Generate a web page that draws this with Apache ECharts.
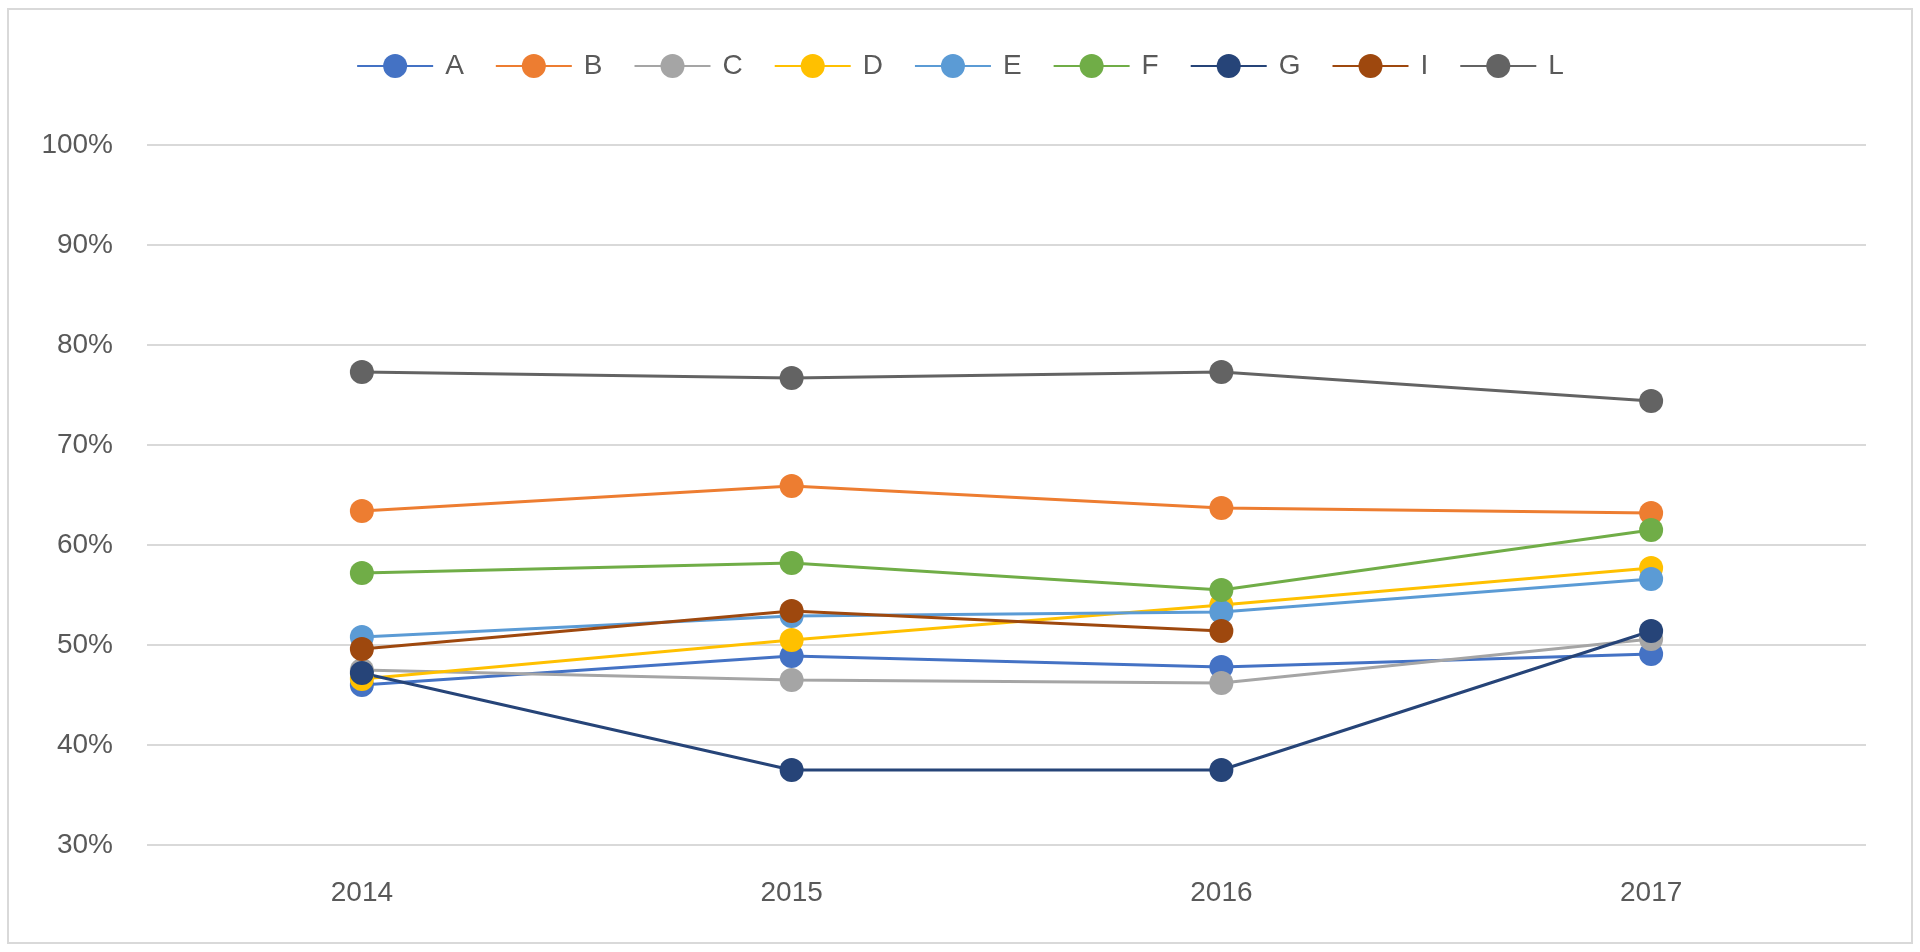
<!DOCTYPE html>
<html>
<head>
<meta charset="utf-8">
<script src="https://cdn.jsdelivr.net/npm/echarts@6/dist/echarts.min.js"></script>
<style>
html,body{margin:0;padding:0;background:#fff;}
#c{width:1920px;height:952px;}
</style>
</head>
<body>
<div id="c"></div>
<script>
const categories = ['2014', '2015', '2016', '2017'];
const seriesNames = ['A', 'B', 'C', 'D', 'E', 'F', 'G', 'I', 'L'];
const A = [46.0, 48.9, 47.8, 49.1];
const B = [63.4, 65.9, 63.7, 63.2];
const C = [47.5, 46.5, 46.2, 50.6];
const D = [46.6, 50.5, 54.0, 57.7];
const E = [50.8, 52.9, 53.3, 56.6];
const F = [57.2, 58.2, 55.5, 61.5];
const G = [47.2, 37.5, 37.5, 51.4];
const I = [49.6, 53.4, 51.4, null];
const L = [77.3, 76.7, 77.3, 74.4];
const yTicks = { min: 30, max: 100, interval: 10 };
const colors = ['#4472C4', '#ED7D31', '#A5A5A5', '#FFC000', '#5B9BD5', '#70AD47', '#264478', '#9E480E', '#636363'];
const values = [A, B, C, D, E, F, G, I, L];

const chart = echarts.init(document.getElementById('c'));
const font = 'Liberation Sans, Arial, sans-serif';
chart.setOption({
  animation: false,
  color: colors,
  graphic: [{
    type: 'rect',
    shape: { x: 8, y: 9, width: 1904, height: 934 },
    style: { fill: 'none', stroke: '#d9d9d9', lineWidth: 2 },
    silent: true
  }],
  legend: {
    top: 47,
    left: 'center',
    itemWidth: 76,
    itemHeight: 30,
    itemGap: 31,
    textStyle: { fontSize: 28, color: '#595959', fontFamily: font, padding: [0, 0, 0, 7] },
    data: seriesNames
  },
  grid: { left: 147, right: 54, top: 145, bottom: 107, containLabel: false },
  xAxis: {
    type: 'category',
    data: categories,
    boundaryGap: true,
    axisLine: { show: false },
    axisTick: { show: false },
    axisLabel: { fontSize: 28, color: '#595959', fontFamily: font, margin: 34 },
    splitLine: { show: false }
  },
  yAxis: {
    type: 'value',
    min: yTicks.min,
    max: yTicks.max,
    interval: yTicks.interval,
    axisLine: { show: false },
    axisTick: { show: false },
    axisLabel: { fontSize: 28, color: '#595959', fontFamily: font, margin: 34, formatter: '{value}%' },
    splitLine: { lineStyle: { color: '#d9d9d9', width: 2 } }
  },
  series: seriesNames.map((n, i) => ({
    name: n,
    type: 'line',
    data: values[i],
    symbol: 'circle',
    symbolSize: 24,
    connectNulls: false,
    lineStyle: { width: 3, color: colors[i] },
    itemStyle: { color: colors[i] }
  }))
});
</script>
</body>
</html>
